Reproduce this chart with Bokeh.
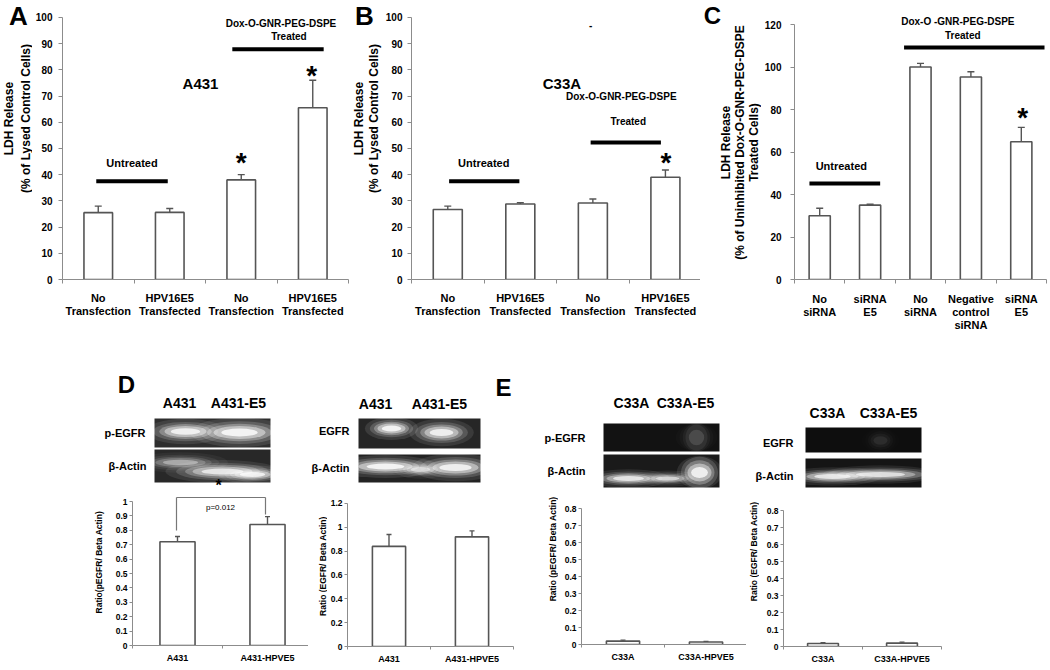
import numpy as np
from bokeh.plotting import figure
from bokeh.models import ColumnDataSource, Range1d, FixedTicker, Label, Whisker, TeeHead
from bokeh.layouts import row, column
from bokeh.embed import file_html
from bokeh.resources import INLINE

SANS = "'Liberation Sans', Arial, sans-serif"

# ---------------- data ----------------
A_labels = ["No\nTransfection", "HPV16E5\nTransfected", "No\nTransfection", "HPV16E5\nTransfected"]
A_values = [25.5, 25.6, 38.0, 65.5]
A_errors = [2.5, 1.5, 2.0, 10.5]

B_labels = ["No\nTransfection", "HPV16E5\nTransfected", "No\nTransfection", "HPV16E5\nTransfected"]
B_values = [26.7, 28.8, 29.2, 39.0]
B_errors = [1.3, 0.5, 1.5, 2.8]

C_labels = ["No\nsiRNA", "siRNA\nE5", "No\nsiRNA", "Negative\ncontrol\nsiRNA", "siRNA\nE5"]
C_values = [30.0, 35.0, 100.0, 95.3, 64.8]
C_errors = [3.5, 0.4, 1.7, 2.5, 6.8]

AB_ticks = [0, 10, 20, 30, 40, 50, 60, 70, 80, 90, 100]
AB_tick_labels = ["0", "10", "20", "30", "40", "50", "60", "70", "80", "90", "100"]
C_ticks = [0, 20, 40, 60, 80, 100, 120]
C_tick_labels = ["0", "20", "40", "60", "80", "100", "120"]

D1_labels = ["A431", "A431-HPVE5"]
D1_values = [0.72, 0.84]
D1_errors = [0.037, 0.055]
D1_ticks = [0, 0.1, 0.2, 0.3, 0.4, 0.5, 0.6, 0.7, 0.8, 0.9, 1.0]
D1_tick_labels = ["0", "0.1", "0.2", "0.3", "0.4", "0.5", "0.6", "0.7", "0.8", "0.9", "1"]

D2_labels = ["A431", "A431-HPVE5"]
D2_values = [0.84, 0.92]
D2_errors = [0.10, 0.05]
D2_ticks = [0, 0.2, 0.4, 0.6, 0.8, 1.0, 1.2]
D2_tick_labels = ["0", "0.2", "0.4", "0.6", "0.8", "1", "1.2"]

E1_labels = ["C33A", "C33A-HPVE5"]
E1_values = [0.02, 0.015]
E1_errors = [0.006, 0.003]
E2_labels = ["C33A", "C33A-HPVE5"]
E2_values = [0.018, 0.02]
E2_errors = [0.004, 0.006]
E_ticks = [0, 0.1, 0.2, 0.3, 0.4, 0.5, 0.6, 0.7, 0.8]
E_tick_labels = ["0", "0.1", "0.2", "0.3", "0.4", "0.5", "0.6", "0.7", "0.8"]

AXIS_COLOR = "#8c8c8c"
BAR_LINE = "#555555"
ROT = np.pi / 2


def add_label(p, x, y, text, size, style="bold", align="center", baseline="middle",
              angle=0.0, line_height=1.2, color="black"):
    p.add_layout(Label(x=x, y=y, text=text, text_font=SANS, text_font_size=f"{size}px",
                       text_font_style=style, text_align=align, text_baseline=baseline,
                       angle=angle, text_color=color, text_line_height=line_height))


class Panel:
    """A bar chart whose frame sits at given page-pixel locations."""

    def __init__(self, fig_box, frame_x, zero_y, x_start, x_scale, y_scale):
        fx, fy, fw, fh = fig_box
        self.fx0, self.fx1 = frame_x
        self.zero_y = zero_y
        self.x_start = x_start
        self.x_scale = x_scale
        self.y_scale = y_scale
        x_end = x_start + (self.fx1 - self.fx0) / x_scale
        y_end = (zero_y - fy) / y_scale
        p = figure(width=fw, height=fh,
                   x_range=Range1d(x_start, x_end), y_range=Range1d(0, y_end),
                   min_border_left=self.fx0 - fx, min_border_right=fx + fw - self.fx1,
                   min_border_top=0, min_border_bottom=fy + fh - zero_y,
                   toolbar_location=None, output_backend="svg")
        p.outline_line_color = None
        p.grid.visible = False
        self.p = p

    def dx(self, rx):
        return self.x_start + (rx - self.fx0) / self.x_scale

    def dy(self, ry):
        return (self.zero_y - ry) / self.y_scale

    def label(self, rx, ry, text, size, **kw):
        add_label(self.p, self.dx(rx), self.dy(ry), text, size, **kw)

    def hline(self, rx0, rx1, ry, width=4):
        self.p.segment(x0=[self.dx(rx0)], y0=[self.dy(ry)], x1=[self.dx(rx1)], y1=[self.dy(ry)],
                       line_color="black", line_width=width)

    def bars(self, labels, vals, errs, bar_width, cap=7, minor_out=4):
        n = len(vals)
        src = ColumnDataSource(dict(x=list(range(n)), top=vals,
                                    err_top=[v + e for v, e in zip(vals, errs)]))
        self.p.vbar(x="x", top="top", bottom=0, width=bar_width, source=src,
                    fill_color="white", line_color=BAR_LINE, line_width=1.6)
        self.p.add_layout(Whisker(source=src, base="x", lower="top", upper="err_top",
                                  line_color=BAR_LINE, line_width=1.4,
                                  upper_head=TeeHead(size=cap, line_color=BAR_LINE, line_width=1.4),
                                  lower_head=None))
        xa = self.p.xaxis[0]
        xa.ticker = FixedTicker(ticks=list(range(n)), minor_ticks=[i - 0.5 for i in range(n + 1)])
        xa.major_label_overrides = {i: lab for i, lab in enumerate(labels)}
        xa.major_tick_out = 0
        xa.major_tick_in = 0
        xa.minor_tick_out = minor_out
        xa.minor_tick_in = 0
        xa.minor_tick_line_color = AXIS_COLOR
        xa.axis_line_color = AXIS_COLOR

    def yaxis(self, ticks, tick_labels, standoff, font_size, tick_out=4):
        ya = self.p.yaxis[0]
        ya.ticker = FixedTicker(ticks=ticks)
        ya.major_label_overrides = {t: l for t, l in zip(ticks, tick_labels)}
        ya.bounds = (ticks[0], ticks[-1])
        ya.axis_line_color = AXIS_COLOR
        ya.major_tick_line_color = AXIS_COLOR
        ya.major_tick_out = tick_out
        ya.major_tick_in = 0
        ya.minor_tick_line_color = None
        ya.major_label_standoff = standoff
        ya.major_label_text_font = SANS
        ya.major_label_text_font_size = f"{font_size}px"
        ya.major_label_text_font_style = "bold"
        ya.major_label_text_color = "black"

    def xlabels(self, font_size, standoff, line_height=1.15):
        xa = self.p.xaxis[0]
        xa.major_label_standoff = standoff
        xa.major_label_text_font = SANS
        xa.major_label_text_font_size = f"{font_size}px"
        xa.major_label_text_font_style = "bold"
        xa.major_label_text_color = "black"
        xa.major_label_text_line_height = line_height


def free_fig(box):
    """Axis-less figure whose data coordinates are page pixels (y downward)."""
    x, y, w, h = box
    p = figure(width=w, height=h, x_range=Range1d(x, x + w), y_range=Range1d(y + h, y),
               min_border=0, toolbar_location=None, output_backend="svg",
               x_axis_type=None, y_axis_type=None)
    p.outline_line_color = None
    p.grid.visible = False
    return p


STAR_SIZE = 28

# ---------------- Panel A ----------------
sA = free_fig((0, 0, 32, 338))
add_label(sA, 18, 19, "A", 26)
add_label(sA, 17, 143, "LDH Release\n(% of Lysed Control Cells)", 12, angle=ROT, line_height=1.15)
A = Panel((32, 0, 320, 338), (60, 348), 281, -0.5, 72.0, 2.64)
A.bars(A_labels, A_values, A_errors, 0.4)
A.yaxis(AB_ticks, AB_tick_labels, 6, 10)
A.xlabels(11, 8)
A.label(199, 84, "A431", 15)
A.hline(94, 166, 182)
A.label(130, 164, "Untreated", 11)
A.hline(231, 323, 49)
A.label(280, 23, "Dox-O-GNR-PEG-DSPE", 10)
A.label(288, 36, "Treated", 10)
A.label(240, 163, "*", STAR_SIZE)
A.label(311, 76, "*", STAR_SIZE)

# ---------------- Panel B ----------------
sB = free_fig((352, 0, 30, 338))
add_label(sB, 364, 19, "B", 26)
add_label(sB, 366, 143, "LDH Release\n(% of Lysed Control Cells)", 12, angle=ROT, line_height=1.1)
B = Panel((382, 0, 318, 338), (408, 700), 281, -0.5, 73.3, 2.64)
B.bars(B_labels, B_values, B_errors, 0.4)
B.yaxis(AB_ticks, AB_tick_labels, 5, 10)
B.xlabels(11, 8)
B.label(560, 84, "C33A", 15)
B.label(589, 25, "-", 10)
B.hline(446, 517, 182)
B.label(481, 164, "Untreated", 11)
B.hline(589, 660, 143)
B.label(620, 97, "Dox-O-GNR-PEG-DSPE", 10)
B.label(627, 122, "Treated", 10)
B.label(665, 163, "*", STAR_SIZE)

# ---------------- Panel C ----------------
sC = free_fig((700, 0, 61, 338))
add_label(sC, 712, 18, "C", 24)
add_label(sC, 739, 172, "LDH Release\n(% of Uninhibited Dox-O-GNR-PEG-DSPE\nTreated Cells)", 12,
          angle=ROT, line_height=1.0)
C = Panel((761, 0, 289, 338), (793, 1046), 279, -0.5, 50.6, 2.125)
C.bars(C_labels, C_values, C_errors, 0.42)
C.yaxis(C_ticks, C_tick_labels, 9, 10)
C.xlabels(11, 9, line_height=1.1)
C.hline(808, 879, 183)
C.label(840, 165, "Untreated", 11)
C.hline(903, 1044, 47)
C.label(957, 21, "Dox-O -GNR-PEG-DSPE", 10)
C.label(962, 35, "Treated", 10)
C.label(1022, 117, "*", STAR_SIZE)


# ---------------- bottom charts ----------------
def small_chart(box, frame_x, zero_y, x_scale, y_scale, labels, vals, errs, ticks, tick_labels, bw):
    P = Panel(box, frame_x, zero_y, -0.5, x_scale, y_scale)
    P.bars(labels, vals, errs, bw, cap=5, minor_out=3)
    P.yaxis(ticks, tick_labels, 2, 8.5, tick_out=3)
    P.xlabels(9, 4)
    return P


BOT_Y, BOT_H = 493, 177

sD1 = free_fig((0, BOT_Y, 106, BOT_H))
add_label(sD1, 98, 573, "Ratio(pEGFR/ Beta Actin)", 8.5, angle=ROT)
D1 = small_chart((106, BOT_Y, 202, BOT_H), (132, 308), 645, 90.0, 144.0,
                 D1_labels, D1_values, D1_errors, D1_ticks, D1_tick_labels, 0.39)
D1.p.segment(x0=[D1.dx(176), D1.dx(176), D1.dx(265)], y0=[D1.dy(530), D1.dy(497), D1.dy(497)],
             x1=[D1.dx(176), D1.dx(265), D1.dx(265)], y1=[D1.dy(497), D1.dy(497), D1.dy(514)],
             line_color="#777777", line_width=1.2)
D1.label(220, 507, "p=0.012", 8, style="normal")

sD2 = free_fig((308, BOT_Y, 19, BOT_H))
add_label(sD2, 322, 577, "Ratio (EGFR/ Beta Actin)", 8.5, angle=ROT)
D2 = small_chart((327, BOT_Y, 208, BOT_H), (347, 513), 646, 83.0, 119.17,
                 D2_labels, D2_values, D2_errors, D2_ticks, D2_tick_labels, 0.4)

sE1 = free_fig((535, BOT_Y, 23, BOT_H))
add_label(sE1, 552, 558, "Ratio (pEGFR/ Beta Actin)", 8.5, angle=ROT)
E1 = small_chart((558, BOT_Y, 188, BOT_H), (581, 746), 644, 83.0, 170.0,
                 E1_labels, E1_values, E1_errors, E_ticks, E_tick_labels, 0.4)

sE2 = free_fig((746, BOT_Y, 13, BOT_H))
add_label(sE2, 753, 560, "Ratio (EGFR/ Beta Actin)", 8.5, angle=ROT)
E2 = small_chart((759, BOT_Y, 291, BOT_H), (783, 941), 646, 79.0, 170.0,
                 E2_labels, E2_values, E2_errors, E_ticks, E_tick_labels, 0.39)


# ---------------- blot strips ----------------
GLOW_LAYERS = [(1.9, 2.3, 0.10), (1.55, 1.75, 0.16), (1.25, 1.35, 0.28), (1.0, 1.0, 0.45), (0.7, 0.6, 0.8)]


def strip(p, l, r, t, b, bg, glows):
    p.quad(left=[l], right=[r], top=[t], bottom=[b], fill_color=bg, line_color=None)
    for (cx, cy, w, h, a) in glows:
        for (sw, sh, sa) in GLOW_LAYERS:
            p.ellipse(x=[cx], y=[cy], width=[min(w * sw, r - l)], height=[min(h * sh, b - t)],
                      fill_color="white", fill_alpha=min(1.0, a * sa), line_color=None)


bD1 = free_fig((0, 338, 308, 155))
add_label(bD1, 126, 384, "D", 24)
add_label(bD1, 179, 402, "A431", 14)
add_label(bD1, 238, 402, "A431-E5", 14)
add_label(bD1, 145, 432, "p-EGFR", 11, align="right")
add_label(bD1, 146, 465, "β-Actin", 11, align="right")
strip(bD1, 154, 270, 418, 447, "#2e2e2e", [(185, 431, 42, 11, 0.95), (239, 432, 52, 13, 1.0)])
strip(bD1, 154, 270, 449, 482, "#282828",
      [(180, 462, 50, 9, 0.45), (222, 471, 60, 10, 0.85), (252, 474, 36, 8, 0.9)])
add_label(bD1, 218, 493, "*", 16, baseline="bottom")

bD2 = free_fig((308, 338, 227, 155))
add_label(bD2, 375, 403, "A431", 14)
add_label(bD2, 439, 403, "A431-E5", 14)
add_label(bD2, 349, 430, "EGFR", 11, align="right")
add_label(bD2, 349, 467, "β-Actin", 11, align="right")
strip(bD2, 358, 480, 418, 448, "#262626", [(391, 428, 28, 10, 1.0), (441, 432, 34, 12, 0.95)])
strip(bD2, 358, 480, 454, 482, "#232323",
      [(385, 466, 54, 10, 1.0), (420, 469, 28, 8, 0.6), (455, 467, 46, 12, 0.95)])
add_label(bD2, 503, 387, "E", 24)

bE1 = free_fig((535, 338, 211, 155))
add_label(bE1, 631, 402, "C33A", 14)
add_label(bE1, 685, 402, "C33A-E5", 14)
add_label(bE1, 585, 437, "p-EGFR", 11, align="right")
add_label(bE1, 585, 470, "β-Actin", 11, align="right")
strip(bE1, 603, 719, 423, 451, "#121212", [(696, 437, 22, 26, 0.15)])
strip(bE1, 603, 719, 454, 487, "#1a1a1a",
      [(628, 478, 44, 8, 0.85), (667, 478, 34, 7, 0.7), (699, 472, 24, 18, 0.95)])

bE2 = free_fig((746, 338, 304, 155))
add_label(bE2, 827, 412, "C33A", 14)
add_label(bE2, 888, 412, "C33A-E5", 14)
add_label(bE2, 793, 442, "EGFR", 11, align="right")
add_label(bE2, 793, 475, "β-Actin", 11, align="right")
strip(bE2, 805, 921, 427, 452, "#0e0e0e", [(880, 440, 20, 14, 0.08)])
strip(bE2, 805, 921, 458, 487, "#151515",
      [(832, 476, 52, 8, 0.85), (880, 474, 70, 8, 0.8)])

layout = column(
    row(sA, A.p, sB, B.p, sC, C.p),
    row(column(bD1, row(sD1, D1.p)), column(bD2, row(sD2, D2.p)),
        column(bE1, row(sE1, E1.p)), column(bE2, row(sE2, E2.p))),
)

open("out.html", "w").write(file_html(layout, INLINE))
